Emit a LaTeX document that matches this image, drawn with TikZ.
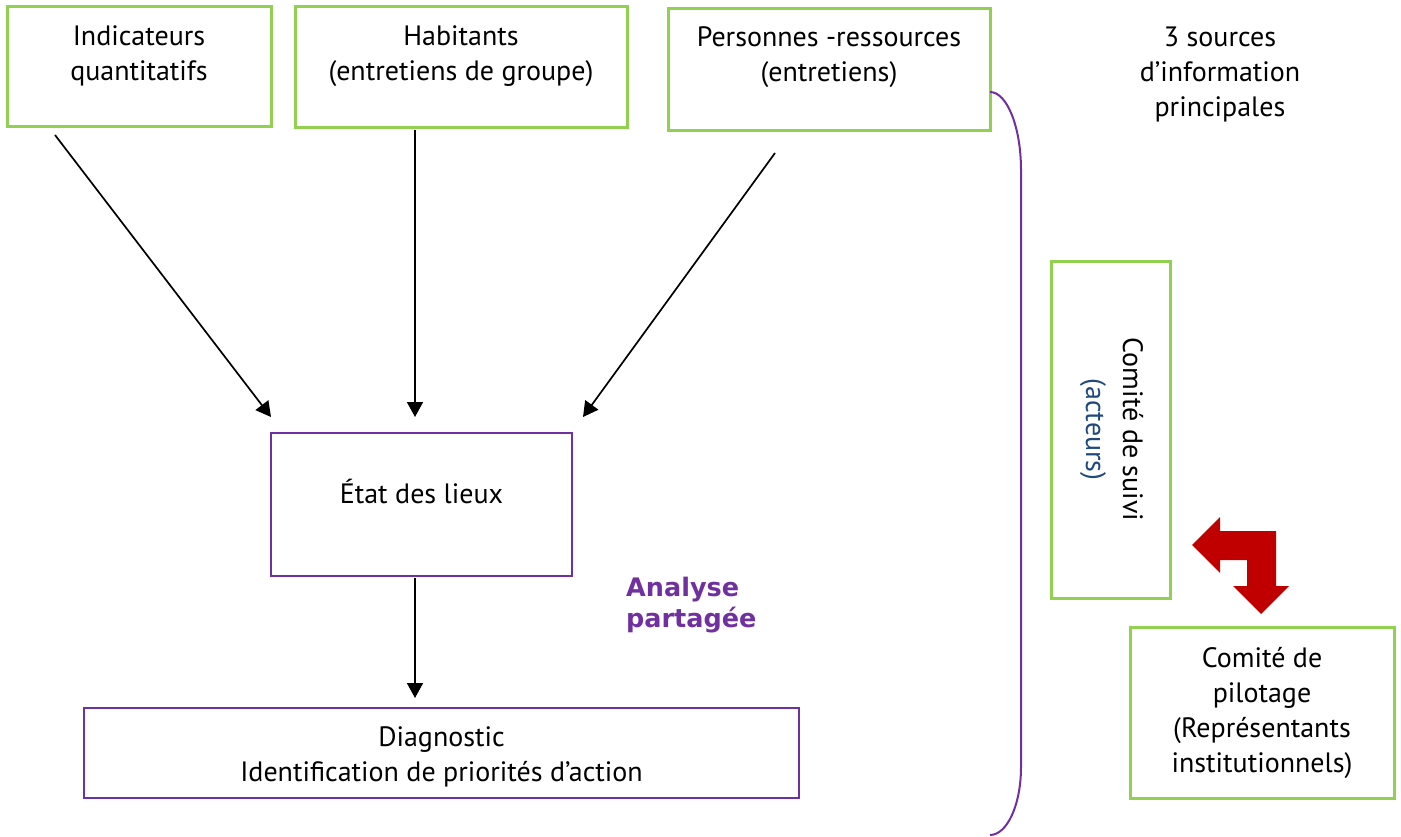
\documentclass[tikz,border=0pt]{standalone}
\usepackage{fontspec}
\setmainfont{PT Sans}
\newfontfamily\grasfont{DejaVu Sans}
\usetikzlibrary{arrows.meta}
\usetikzlibrary{positioning}
\definecolor{vertc}{HTML}{92D050}
\definecolor{violetc}{HTML}{7030A0}
\definecolor{bleuc}{HTML}{1F497D}
\definecolor{rougec}{HTML}{C00000}

\begin{document}
\begin{tikzpicture}[x=1pt, y=-1pt,
    vertbox/.style={draw=vertc, line width=3pt, inner sep=0pt},
    violetbox/.style={draw=violetc, line width=2pt, inner sep=0pt},
    txt/.style={align=center, inner sep=0pt, font=\fontsize{28}{35}\selectfont},
    fleche/.style={line width=1.7pt, -{Triangle[length=15pt, width=16pt]}}]
\useasboundingbox (0,0) rectangle (1401,836);

% les trois sources
\node[vertbox, minimum width=264, minimum height=120] (ind) at (139,66) {};
\node[txt, below=21pt of ind.north] (ind txt) {Indicateurs\\quantitatifs};
\node[vertbox, minimum width=332, minimum height=121] (hab) at (461,66.5) {};
\node[txt, below=21pt of hab.north] (hab txt) {Habitants\\(entretiens de groupe)};
\node[vertbox, minimum width=322, minimum height=122] (pers) at (829,69) {};
\node[txt, below=20pt of pers.north] (pers txt) {Personnes -ressources\\(entretiens)};
\node[txt, anchor=north] (sources) at (1220,27) {3 sources\\d’information\\principales};

% analyse
\node[violetbox, minimum width=301, minimum height=143] (lieux) at (421.5,504.5) {};
\node[txt] (lieux txt) at ([yshift=13pt]lieux.center) {État des lieux};
\node[violetbox, minimum width=715, minimum height=90] (diag) at (441.5,753) {};
\node[txt] (diag txt) at ([yshift=-4pt]diag.center) {Diagnostic\\Identification de priorités d’action};
\node[anchor=north west, align=left, inner sep=0pt, text=violetc,
      font=\grasfont\bfseries\fontsize{25.5}{31}\selectfont] (analyse) at (626,577) {Analyse\\partagée};

\coordinate (ind src) at (55,135);
\coordinate (hab src) at (415,130);
\coordinate (pers src) at (775,153);
\coordinate (lieux in1) at (271,417);
\coordinate (lieux in2) at (415,417);
\coordinate (lieux in3) at (583,417);
\coordinate (lieux out) at (415,578);
\coordinate (diag in) at (415,698);
\draw[fleche] (ind src) -- (lieux in1);
\draw[fleche] (hab src) -- (lieux in2);
\draw[fleche] (pers src) -- (lieux in3);
\draw[fleche] (lieux out) -- (diag in);

% accolade
\coordinate (acc haut) at (990,92);
\coordinate (acc bas) at (990,835);
\draw[violetc, line width=2pt] (acc haut) .. controls (1007,92) and (1021,127) .. (1021,170)
    -- (1021,767) .. controls (1021,805) and (1007,835) .. (acc bas);

% comites
\node[vertbox, minimum width=119, minimum height=337] (suivi) at (1110.5,429.5) {};
\node[txt, rotate=-90, font=\fontsize{28}{37}\selectfont] (suivi txt) at ([xshift=1pt]suivi.center) {Comité de suivi\\\textcolor{bleuc}{(acteurs)}};
\node[vertbox, txt, minimum width=264, minimum height=171] (pilot) at (1262,712.5) {Comité de\\pilotage\\(Représentants\\institutionnels)};

\fill[rougec] (1192,545) -- (1220,517) -- (1220,531) -- (1276,531) -- (1276,586) -- (1289,586)
    -- (1261,614) -- (1233,586) -- (1247,586) -- (1247,560) -- (1220,560) -- (1220,573) -- cycle;
\end{tikzpicture}
\end{document}
